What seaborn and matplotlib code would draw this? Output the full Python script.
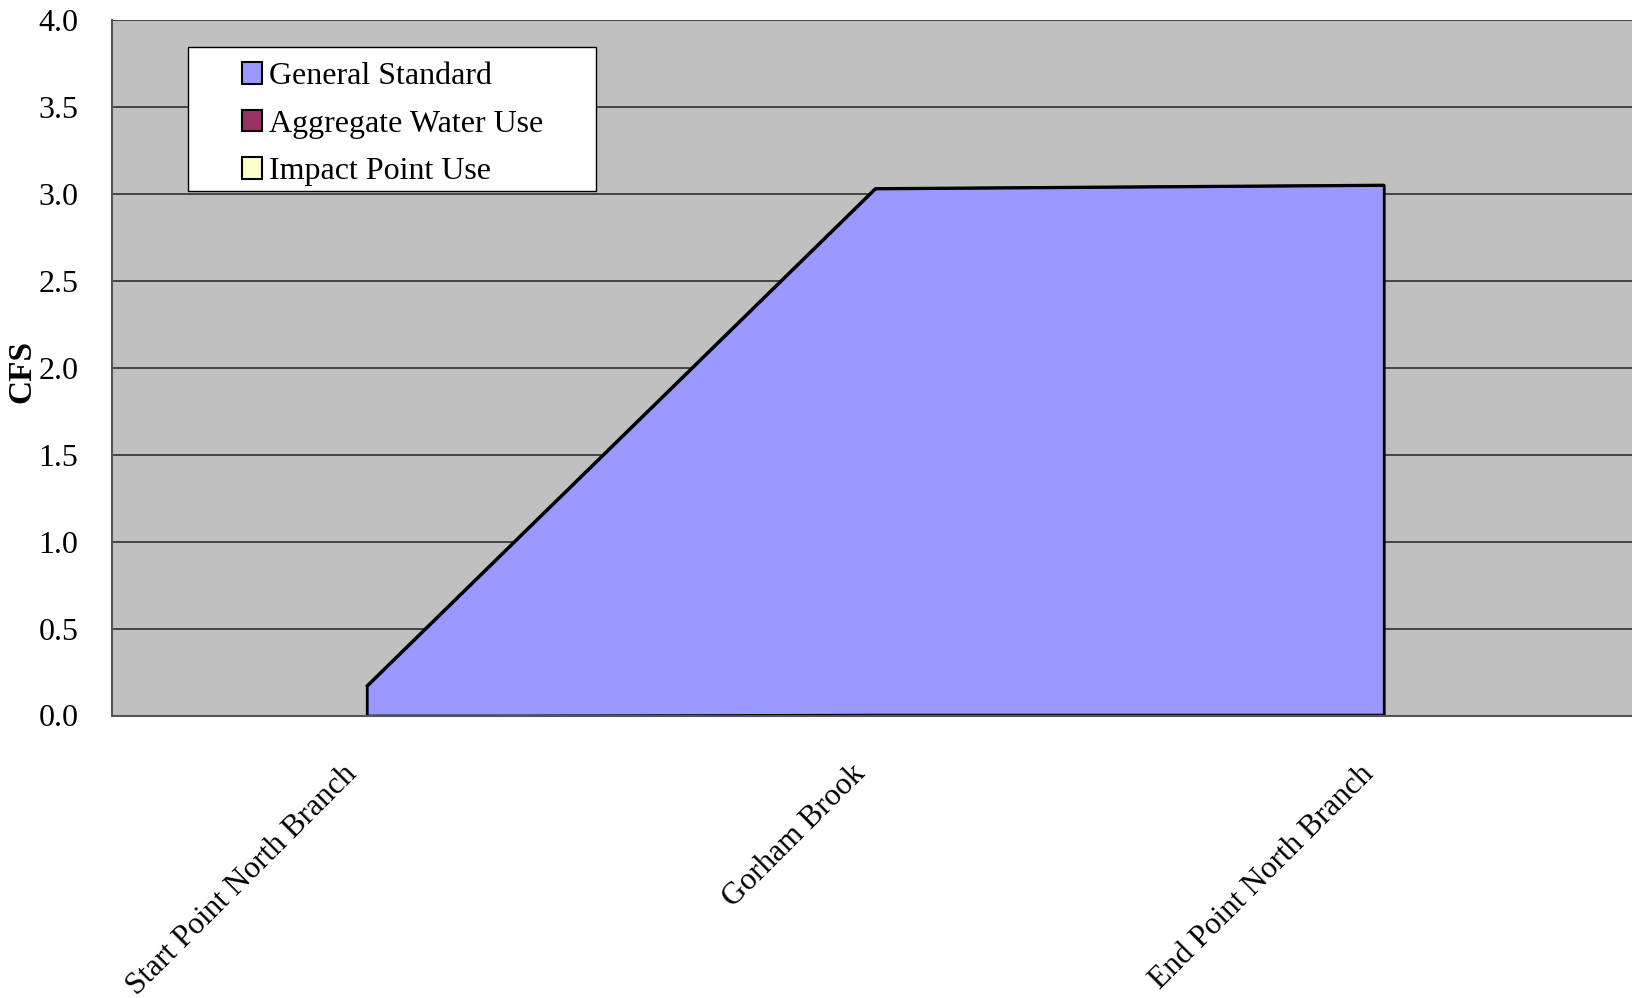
import matplotlib
matplotlib.use("Agg")
import matplotlib.pyplot as plt
import matplotlib.transforms as mtransforms
import seaborn as sns
import pandas as pd
import numpy as np
from matplotlib.patches import Patch, Rectangle

categories = ["Start Point North Branch", "Gorham Brook", "End Point North Branch"]
general_standard = [0.17, 3.03, 3.05]
aggregate_water_use = [0.0, 0.01, 0.01]
impact_point_use = [0.0, 0.0, 0.0]
series_names = ["General Standard", "Aggregate Water Use", "Impact Point Use"]
series_colors = ["#9999FF", "#993366", "#FFFFCC"]
y_ticks = [0.0, 0.5, 1.0, 1.5, 2.0, 2.5, 3.0, 3.5, 4.0]

sns.set_style("white")
plt.rcParams["font.family"] = ["Liberation Serif", "DejaVu Serif"]
plt.rcParams["text.color"] = "black"
plt.rcParams["axes.labelcolor"] = "black"
plt.rcParams["xtick.labelcolor"] = "black"
plt.rcParams["ytick.labelcolor"] = "black"

df = pd.DataFrame({
    "category": categories,
    "pos": np.arange(len(categories)) + 0.5,
    "General Standard": general_standard,
    "Aggregate Water Use": aggregate_water_use,
    "Impact Point Use": impact_point_use,
})

fig = plt.figure(figsize=(16.33, 9.98), dpi=100)
ax = fig.add_axes([112.5 / 1633, 282.5 / 998, 1525.5 / 1633, 695.7 / 998])
ax.set_facecolor("#C0C0C0")

for y in y_ticks[1:]:
    ax.axhline(y, color="#3A3A3A", lw=1.3, zorder=1)

for name, col in zip(series_names, series_colors):
    vals = df[name].values
    if np.all(vals == 0):
        continue
    ax.fill_between(df["pos"], 0, vals, facecolor=col, edgecolor="black",
                    linewidth=2 if name == "General Standard" else 0.8, zorder=2)

sns.lineplot(data=df, x="pos", y="General Standard", color="black", lw=2,
             ax=ax, zorder=3, legend=False)

ax.set_xlim(0, 3)
ax.set_ylim(0, 4)
ax.set_yticks(y_ticks)
ax.set_yticklabels([f"{v:.1f}" for v in y_ticks])
ax.set_xticks([0, 1, 2, 3])
ax.set_xticklabels([])
ax.set_xticks(df["pos"], minor=True)
ax.tick_params(axis="x", which="major", length=9, width=1.2, color="#555555", direction="out")
ax.tick_params(axis="x", which="minor", length=0, pad=33, labelsize=22.5, labelcolor="black")
ax.tick_params(axis="y", length=9, width=1.2, color="#555555", direction="out",
               labelsize=23, pad=15.5, labelcolor="black")
ax.set_xticklabels(categories, minor=True, rotation=45, ha="right", va="top",
                   rotation_mode="anchor")
shift = mtransforms.ScaledTranslation(-0.25, 0.02, fig.dpi_scale_trans)
for lbl in ax.get_xticklabels(minor=True):
    lbl.set_transform(lbl.get_transform() + shift)
ax.set_xlabel("")
ax.set_ylabel("CFS", fontsize=24, fontweight="bold", color="black")
ax.yaxis.set_label_coords(-0.0495, 0.495)

for s in ["top", "right"]:
    ax.spines[s].set_visible(False)
for s in ["left", "bottom"]:
    ax.spines[s].set_color("#555555")
    ax.spines[s].set_linewidth(1.5)

# legend box
ax.add_patch(Rectangle((0.0492, 0.7545), 0.2676, 0.2065, transform=ax.transAxes,
                       facecolor="white", edgecolor="black", linewidth=1.0, zorder=4))
handles = [Patch(facecolor=c, edgecolor="black", linewidth=1.5) for c in series_colors]
leg = ax.legend(handles, series_names, loc="upper left",
                bbox_to_anchor=(0.0846, 0.939),
                fontsize=23, frameon=False, handlelength=0.65, handleheight=0.65,
                handletextpad=0.2, borderpad=0, labelspacing=0.58,
                borderaxespad=0, labelcolor="black")
leg.set_zorder(5)

fig.savefig("out.png", dpi=100)
